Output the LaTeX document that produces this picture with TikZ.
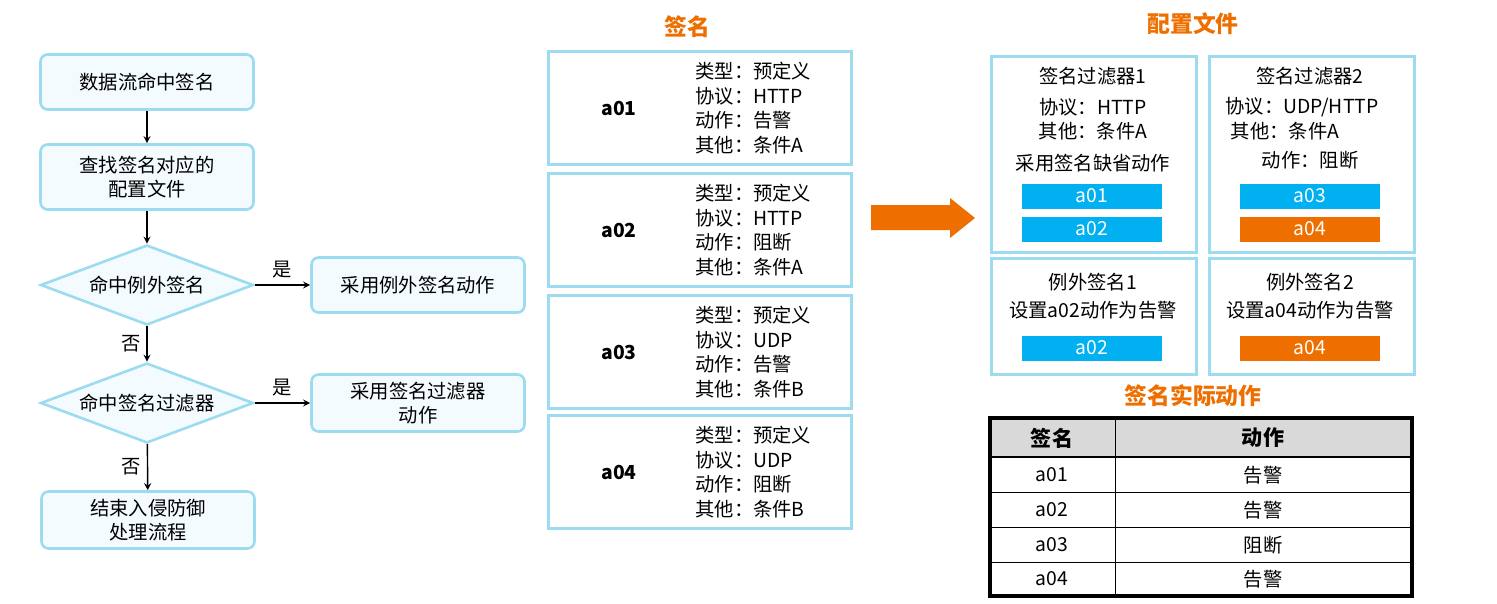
\documentclass[tikz,border=0pt]{standalone}
\usepackage{fontspec}
\setmainfont{Noto Sans CJK SC}
\usetikzlibrary{shapes.geometric}
\definecolor{lineblue}{HTML}{9DDCF0}
\definecolor{boxfill}{HTML}{F4FBFE}
\definecolor{barblue}{HTML}{00B0F0}
\definecolor{barorange}{HTML}{EE6F00}
\definecolor{headgray}{HTML}{D9D9D9}
\begin{document}
\begin{tikzpicture}[x=0.02cm,y=-0.02cm,font=\fontsize{11}{14}\selectfont]

    % Styles
    \tikzstyle{flow} = [rectangle, rounded corners=4pt, minimum width=4.26cm, minimum height=1.1cm, align=center, draw=lineblue, line width=1.5pt, fill=boxfill]
    \tikzstyle{decision} = [diamond, aspect=2.66, inner sep=0pt, minimum width=4.26cm, minimum height=1.6cm, align=center, draw=lineblue, line width=1.5pt, fill=boxfill]
    \tikzstyle{sig} = [rectangle, minimum width=6.06cm, minimum height=2.26cm, draw=lineblue, line width=1.5pt]
    \tikzstyle{cfg} = [rectangle, anchor=north west, draw=lineblue, line width=1.5pt]
    \tikzstyle{bar} = [rectangle, minimum width=2.8cm, minimum height=0.5cm, text=white, inner sep=0pt]
    \tikzstyle{title} = [text=barorange, font=\fontsize{13}{15}\selectfont\bfseries]
    \tikzstyle{arrow} = [thick,->,>=stealth]

    \useasboundingbox (0,0) rectangle (1497,603);

    % Flowchart
    \node (hit) [flow] at (147,82) {数据流命中签名};
    \node (find) [flow, minimum height=1.3cm] at (147,177) {查找签名对应的\\配置文件};
    \node (exc) [decision] at (147,285) {命中例外签名};
    \node (excact) [flow] at (418,285) {采用例外签名动作};
    \node (filt) [decision] at (147,403) {命中签名过滤器};
    \node (filtact) [flow, minimum height=1.14cm] at (418,403) {采用签名过滤器\\动作};
    \node (stop) [flow, minimum height=1.14cm] at (148,520) {结束入侵防御\\处理流程};

    \draw [arrow] (hit) -- (find);
    \draw [arrow] (find) -- (exc);
    \draw [arrow] (exc) -- node[above] {是} (excact);
    \draw [arrow] (exc) -- node[left] {否} (filt);
    \draw [arrow] (filt) -- node[above] {是} (filtact);
    \draw [arrow] (filt) -- node[left] {否} (stop);

    % Signatures
    \node [title] at (687,27) {签名};
    \foreach \id/\y/\act/\proto/\cond in {a01/108/告警/HTTP/A, a02/230/阻断/HTTP/A, a03/352/告警/UDP/B, a04/472/阻断/UDP/B} {
        \node (sig-\id) [sig] at (700,\y) {};
        \node [font=\fontsize{11}{14}\selectfont\bfseries] at (619,\y) {\id};
        \node [anchor=west, align=left, inner sep=0pt] at (695,\y) {类型：预定义\\协议：\proto\\动作：\act\\其他：条件\cond};
    }

    % Big arrow
    \fill [barorange] (871,205) -- (950,205) -- (950,198) -- (975,218) -- (950,238) -- (950,230) -- (871,230) -- cycle;

    % Profiles
    \node [title] at (1193,24) {配置文件};
    \node (flt1) [cfg, minimum width=4.1cm, minimum height=3.92cm] at (990,55) {};
    \node (flt2) [cfg, minimum width=4.1cm, minimum height=3.92cm] at (1208,55) {};
    \node (exc1) [cfg, minimum width=4.1cm, minimum height=2.32cm] at (990,257) {};
    \node (exc2) [cfg, minimum width=4.1cm, minimum height=2.32cm] at (1208,257) {};
    \node at (1093,76) {签名过滤器1};
    \node at (1093,107) {协议：HTTP};
    \node at (1093,131) {其他：条件A};
    \node at (1093,163) {采用签名缺省动作};
    \node [bar, fill=barblue] at (1092,196) {a01};
    \node [bar, fill=barblue] at (1092,229) {a02};
    \node at (1310,76) {签名过滤器2};
    \node at (1302,107) {协议：UDP/HTTP};
    \node at (1285,131) {其他：条件A};
    \node at (1310,160) {动作：阻断};
    \node [bar, fill=barblue] at (1310,196) {a03};
    \node [bar, fill=barorange] at (1310,229) {a04};
    \node at (1093,282) {例外签名1};
    \node at (1093,310) {设置a02动作为告警};
    \node [bar, fill=barblue] at (1092,348) {a02};
    \node at (1310,282) {例外签名2};
    \node at (1310,310) {设置a04动作为告警};
    \node [bar, fill=barorange] at (1310,348) {a04};

    % Result table
    \node [title] at (1193,396) {签名实际动作};
    \fill [headgray] (990,418) rectangle (1412,457);
    \draw (990,492) -- (1412,492) (990,527) -- (1412,527) (990,562) -- (1412,562) (1115,418) -- (1115,596);
    \draw [line width=1.2pt] (990,457) -- (1412,457);
    \draw [line width=2pt] (990,418) rectangle (1412,596);
    \node [font=\fontsize{12}{14}\selectfont\bfseries] at (1052,438) {签名};
    \node [font=\fontsize{12}{14}\selectfont\bfseries] at (1263,438) {动作};
    \foreach \id/\act/\y in {a01/告警/475, a02/告警/510, a03/阻断/545, a04/告警/579} {
        \node at (1052,\y) {\id};
        \node at (1263,\y) {\act};
    }

\end{tikzpicture}
\end{document}
